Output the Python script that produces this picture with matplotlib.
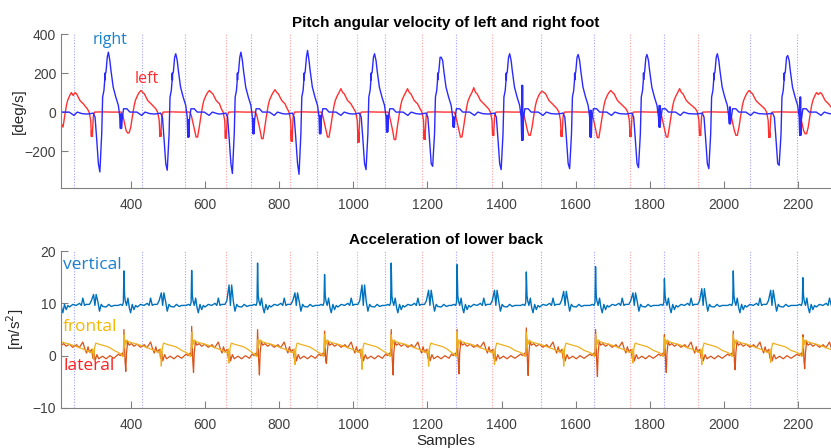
import numpy as np
import matplotlib
matplotlib.use("Agg")
import matplotlib.pyplot as plt

plt.rcParams['font.family'] = ['Liberation Sans', 'DejaVu Sans']

# ---- events (samples)
ev_blue = [245, 429, 545, 724, 902, 1086, 1278, 1506, 1649, 1838, 2071, 2198]
ev_red = [656, 829, 1010, 1186, 1375, 1746, 1932]

# ---- right foot: one swing, offsets from the swing peak
r_peak_s = [155, 338, 520, 696, 876, 1057, 1237, 1422, 1607, 1793, 1983, 2173, 2360]
r_peak_v = [300, 307, 299, 307, 316, 299, 281, 299, 295, 295, 299, 290, 290]
r_trough_v = [-300, -307, -298, -315, -319, -295, -278, -295, -290, -285, -290, -273, -280]
r_blob_hi = [-10, -10, -40, -34, -17, -17, -26, 137, 9, 34, 26, 77, -10]
r_blob_lo = [-80, -84, -128, -111, -111, -102, -77, -145, -128, -77, -60, -119, -80]
r_off = [-58, -48, -41, -36, -32, -27, -23, -18, -15.5, -12, -10, -9.5, -9, -8.5, -6.5, -3, 0,
         4, 7, 13, 20, 27, 31, 32.5, 33.2, 34, 34.8, 35.5, 37, 41, 50, 58, 77, 90, 99, 112]
r_val = [-10, -8, -5, -26, -128, -264, 'tr', -111, 77, 111, 160, 200, 165, 195, 205, 281, 'pk',
         264, 213, 128, 77, 34, -26, 'bl', 'bh', 'bl', 'bh', 'bl', -40, 17, 17, 0, 0, -17, 0, -8]

# ---- left foot: offsets from the heel-strike drop
l_drop_s = [110, 293, 478, 655, 833, 1013, 1192, 1377, 1562, 1748, 1936, 2123, 2306]
l_drop_v = [-120, -125, -125, -135, -150, -155, -140, -120, -125, -125, -120, -130, -125]
l_trough_v = [-60, -107, -128, -136, -128, -141, -128, -119, -131, -128, -119, -111, -110]
l_hump_v = [85, 111, 111, 115, 120, 120, 125, 107, 111, 120, 111, 90, 90]
l_off = [-12, -7, -2.7, -1.6, -0.9, -0.3, 0.4, 1.0, 1.7, 2.4, 4.6, 8, 30, 55, 80, 84, 89, 93, 97, 101,
         105.5, 110, 114.7, 118, 123.6, 128, 133, 138, 142, 147, 151, 156, 160]
l_val = [17, 0, -43, -100, 'dr', -95, 'dr', -105, 'dr', -90, -17, 0, 1, 0, 0, -17, -60, -95, 'tr', 'tr',
         -77, -20, 34, 60, 85, 100, 'hu', 100, 94, 75, 60, 50, 43]

# ---- lower back: offsets from the right heel strike
t_strike = [197, 380, 563, 741, 922, 1102, 1280, 1467, 1654, 1840, 2026, 2214]
vert_pk = [16.0, 16.2, 16.3, 17.7, 15.5, 17.7, 17.4, 16.0, 17.0, 14.7, 16.2, 14.9]
vert_lf = [11.7, 12.0, 13.5, 12.0, 13.5, 12.5, 12.5, 12.3, 12.0, 12.8, 12.5, 12.0]
front_pk = [3.5, 4.0, 4.5, 3.0, 4.0, 4.0, 4.5, 4.5, 4.0, 3.5, 4.0, 3.5]
front_dp = [-0.8, -2.0, -1.4, -1.7, -2.6, -2.0, -1.7, -2.0, -1.4, -1.7, -1.3, -1.5]
lat_pk = [4.5, 5.0, 5.6, 5.0, 4.7, 5.0, 5.0, 5.3, 5.0, 4.0, 4.7, 4.0]
lat_dp = [-2.5, -3.0, -3.2, -3.7, -1.5, -3.7, -3.5, -3.8, -4.0, -3.2, -2.7, -2.5]

v_off = [-15, -9, -4, -1.5, 0, 1.8, 3.6, 7, 10.8, 14.4, 18, 22.5, 27, 31.6, 36, 45, 54, 63, 68, 72,
         76.6, 81, 90, 95, 101, 104.6, 108, 112.7, 117, 121.7, 126, 135, 142, 149, 156]
v_val = [9.6, 9.8, 9.6, 10.2, 'pk', 11.5, 10.5, 9.6, 11.0, 9.2, 8.2, 9.8, 8.8, 9.6, 9.3, 9.8, 9.6, 10.0, 9.6, 11.0,
         9.6, 9.8, 9.8, 10.5, 'lf', 9.6, 'lf', 10.3, 8.5, 9.8, 9.4, 9.3, 9.8, 9.4, 9.6]
f_off = [-15, -8, -3, -1, 0, 1.5, 3, 5, 8, 12, 20, 30, 45, 60, 75, 88, 96, 99, 101, 102.5,
         104, 107, 115, 125, 140, 150, 156]
f_val = [0.6, 0.3, -0.2, 0.5, 'pk', 1.5, 3.0, 2.2, 3.0, 2.7, 2.5, 2.3, 2.0, 1.6, 1.2, 0.8, 0.5, 1.3, 'dp', 0.4,
         1.6, 2.4, 2.2, 2.0, 1.7, 1.3, 1.0]
a_off = [-15, -10, -4, -1.5, 0, 1.5, 3, 5, 7, 10, 14, 20, 27, 35, 45, 55, 62, 72, 77, 82,
         86, 90, 96, 99, 102, 105, 110, 115, 125, 135, 145, 156]
a_val = [0.3, 0.0, 0.5, 0.0, 'pk', 2.0, -1.0, 'dp', 0.5, 2.7, 2.0, 2.3, 1.8, 2.2, 1.6, 2.1, 1.5, 2.6, 1.4, 0.5,
         1.7, 0.7, 1.2, -0.5, 0.8, -1.0, 0.2, -0.6, -0.1, -0.6, 0.0, -0.5]


def build(events, offsets, template, per_stride):
    ts, vs = [], []
    for i, e in enumerate(events):
        ts += [e + o for o in offsets]
        vs += [per_stride[k][i] if isinstance(k, str) else k for k in template]
    return np.array(ts), np.array(vs)


tr, vr = build(r_peak_s, r_off, r_val, {'pk': r_peak_v, 'tr': r_trough_v, 'bh': r_blob_hi, 'bl': r_blob_lo})
tl, vl = build(l_drop_s, l_off, l_val, {'dr': l_drop_v, 'tr': l_trough_v, 'hu': l_hump_v})
tv, vv = build(t_strike, v_off, v_val, {'pk': vert_pk, 'lf': vert_lf})
tf, vf = build(t_strike, f_off, f_val, {'pk': front_pk, 'dp': front_dp})
ta, va = build(t_strike, a_off, a_val, {'pk': lat_pk, 'dp': lat_dp})

fig = plt.figure(figsize=(8.31, 4.48), dpi=100)
ax1 = fig.add_axes([0.0734, 0.580, 0.9266, 0.344])
ax2 = fig.add_axes([0.0734, 0.0893, 0.9266, 0.3504])

for ax in (ax1, ax2):
    for x in ev_blue:
        ax.axvline(x, color='#a0a0ff', lw=0.8, ls=(0, (1, 1.5)), zorder=0)
    for x in ev_red:
        ax.axvline(x, color='#ffa0a0', lw=0.8, ls=(0, (1, 1.5)), zorder=0)
    ax.set_xlim(210, 2290)
    ax.set_xticks(range(400, 2201, 200))
    ax.spines['top'].set_visible(False)
    ax.spines['right'].set_visible(False)
    ax.spines['left'].set_color('#808080')
    ax.spines['bottom'].set_color('#808080')
    ax.tick_params(direction='in', length=5, color='#808080', labelcolor='#404040', labelsize=10)
    ax.tick_params(axis='x', pad=7)

ax1.plot(tl, vl, color='#ff3030', lw=1.0)
ax1.plot(tr, vr, color='#2a2aff', lw=1.0)
ax1.set_ylim(-390, 400)
ax1.set_yticks([-200, 0, 200, 400])
ax1.set_ylabel('[deg/s]', fontsize=11, color='#262626')
ax1.yaxis.set_label_coords(-0.045, 0.5)
ax1.set_title('Pitch angular velocity of left and right foot', fontsize=11, fontweight='bold', pad=5)
ax1.text(296, 372, 'right', color='#1a80d0', fontsize=11.5, family=['Open Sans', 'DejaVu Sans'], va='center')
ax1.text(410, 172, 'left', color='#ff2a2a', fontsize=11.5, family=['Open Sans', 'DejaVu Sans'], va='center')

ax2.plot(tv, vv, color='#0072BD', lw=1.0)
ax2.plot(ta, va, color='#D95319', lw=0.9)
ax2.plot(tf, vf, color='#EDB120', lw=0.9)
ax2.set_ylim(-10, 20)
ax2.set_yticks([-10, 0, 10, 20])
ax2.set_ylabel('[m/s$^2$]', fontsize=11, color='#262626')
ax2.yaxis.set_label_coords(-0.045, 0.5)
ax2.set_title('Acceleration of lower back', fontsize=11, fontweight='bold', pad=5)
ax2.set_xlabel('Samples', fontsize=11, color='#262626', labelpad=2)
ax2.text(216, 17.4, 'vertical', color='#1a80d0', fontsize=12.5, family=['Open Sans', 'DejaVu Sans'], va='center')
ax2.text(216, 5.4, 'frontal', color='#f5b800', fontsize=12.5, family=['Open Sans', 'DejaVu Sans'], va='center')
ax2.text(216, -1.9, 'lateral', color='#ff2020', fontsize=12.5, family=['Open Sans', 'DejaVu Sans'], va='center')

fig.savefig('out.png', dpi=100)
